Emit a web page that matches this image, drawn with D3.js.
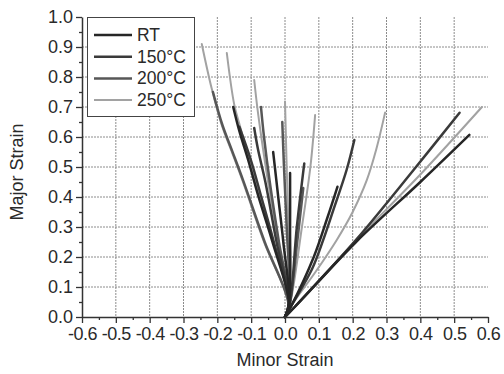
<!DOCTYPE html>
<html>
<head>
<meta charset="utf-8">
<script src="https://cdn.jsdelivr.net/npm/d3@7"></script>
<style>
  body { margin: 0; background: #fff; }
  svg { display: block; font-family: "Liberation Sans", Arial, sans-serif; }
</style>
</head>
<body>
<svg id="chart" width="504" height="374"></svg>
<script>
// strain paths, [minor, major] pairs
const seriesNames = ["RT", "150°C", "200°C", "250°C"];
const seriesColors = ["#262626", "#3a3a3a", "#575757", "#a2a2a2"];

const rtPaths = [
  [[0, 0], [0.012, 0.045], [-0.037, 0.25], [-0.078, 0.4], [-0.108, 0.52], [-0.135, 0.62], [-0.153, 0.7]],
  [[0, 0], [0.012, 0.045], [-0.005, 0.25], [-0.02, 0.4], [-0.035, 0.55]],
  [[0, 0], [0.012, 0.045], [0.015, 0.3], [0.015, 0.48]],
  [[0, 0], [0.02, 0.04], [0.085, 0.2], [0.125, 0.33], [0.155, 0.434]],
  [[0, 0], [0.03, 0.035], [0.21, 0.25], [0.4, 0.45], [0.545, 0.607]],
];
const c150Paths = [
  [[0, 0], [0.012, 0.045], [-0.033, 0.25], [-0.07, 0.4], [-0.1, 0.52], [-0.135, 0.634]],
  [[0, 0], [0.012, 0.045], [-0.025, 0.25], [-0.058, 0.45], [-0.08, 0.56], [-0.091, 0.63]],
  [[0, 0], [0.014, 0.045], [0.035, 0.3], [0.057, 0.512]],
  [[0, 0], [0.02, 0.04], [0.08, 0.16], [0.113, 0.257], [0.143, 0.357], [0.182, 0.49], [0.205, 0.59]],
  [[0, 0], [0.03, 0.035], [0.21, 0.257], [0.38, 0.49], [0.516, 0.681]],
];
const c200Paths = [
  [[0, 0], [0.01, 0.045], [-0.06, 0.25], [-0.123, 0.453], [-0.156, 0.553], [-0.185, 0.64], [-0.213, 0.75]],
  [[0, 0], [0.012, 0.045], [-0.018, 0.25], [-0.045, 0.45], [-0.062, 0.6], [-0.071, 0.7]],
  [[0, 0], [0.012, 0.045], [0.005, 0.3], [-0.003, 0.5], [-0.008, 0.65]],
  [[0, 0], [0.014, 0.045], [0.036, 0.25], [0.054, 0.43]],
];
const c250Paths = [
  [[0, 0], [0.01, 0.045], [-0.062, 0.25], [-0.125, 0.453], [-0.158, 0.553], [-0.187, 0.64], [-0.217, 0.763], [-0.246, 0.91]],
  [[0, 0], [0.012, 0.045], [-0.035, 0.25], [-0.075, 0.4], [-0.105, 0.52], [-0.133, 0.636], [-0.15, 0.708], [-0.172, 0.88]],
  [[0, 0], [0.012, 0.045], [-0.02, 0.25], [-0.05, 0.45], [-0.07, 0.6], [-0.082, 0.7], [-0.091, 0.79]],
  [[0, 0], [0.012, 0.045], [0.01, 0.3], [0.005, 0.5], [0, 0.718]],
  [[0, 0], [0.015, 0.045], [0.05, 0.3], [0.075, 0.5], [0.089, 0.673]],
  [[0, 0], [0.02, 0.04], [0.09, 0.15], [0.153, 0.257], [0.2, 0.35], [0.242, 0.457], [0.27, 0.56], [0.296, 0.682]],
  [[0, 0], [0.03, 0.035], [0.21, 0.255], [0.4, 0.475], [0.582, 0.7]],
];
const allPaths = [rtPaths, c150Paths, c200Paths, c250Paths];

const xTicks = [-0.6, -0.5, -0.4, -0.3, -0.2, -0.1, 0, 0.1, 0.2, 0.3, 0.4, 0.5, 0.6];
const yTicks = [0, 0.1, 0.2, 0.3, 0.4, 0.5, 0.6, 0.7, 0.8, 0.9, 1.0];

const svg = d3.select("#chart");
const plotLeft = 82, plotRight = 488, plotTop = 17, plotBottom = 317;

const x = d3.scaleLinear().domain([-0.6, 0.6]).range([plotLeft, plotRight]);
const y = d3.scaleLinear().domain([0, 1]).range([plotBottom, plotTop]);

const fmt = (d) => (Math.round(d * 10) / 10).toFixed(1);

// grid
const grid = svg.append("g").attr("class", "grid");
grid.selectAll("line.gx")
  .data(xTicks.slice(1, -1))
  .join("line")
  .attr("class", "gx")
  .attr("x1", (d) => x(d)).attr("x2", (d) => x(d))
  .attr("y1", plotTop).attr("y2", plotBottom)
  .attr("stroke", "#8c8c8c")
  .attr("stroke-width", 1)
  .attr("stroke-dasharray", "2,1");
grid.selectAll("line.gy")
  .data(yTicks.slice(1, -1))
  .join("line")
  .attr("class", "gy")
  .attr("x1", plotLeft).attr("x2", plotRight)
  .attr("y1", (d) => y(d)).attr("y2", (d) => y(d))
  .attr("stroke", "#8c8c8c")
  .attr("stroke-width", 1)
  .attr("stroke-dasharray", "2,1");

// strain paths
const line = d3.line()
  .x((d) => x(d[0]))
  .y((d) => y(d[1]))
  .curve(d3.curveCatmullRom.alpha(0.5));

const paths = svg.append("g").attr("class", "paths");
// light series drawn first so darker ones sit on top
[3, 2, 1, 0].forEach((si) => {
  paths.append("g")
    .selectAll("path")
    .data(allPaths[si])
    .join("path")
    .attr("d", line)
    .attr("fill", "none")
    .attr("stroke", seriesColors[si])
    .attr("stroke-width", si === 3 ? 2 : 2.5)
    .attr("stroke-linecap", "round");
});

// axes
const xAxis = svg.append("g")
  .attr("transform", `translate(0,${plotBottom})`)
  .call(d3.axisBottom(x).tickValues(xTicks).tickFormat(fmt).tickSize(6).tickSizeOuter(0));
svg.append("g")
  .attr("transform", `translate(0,${plotBottom})`)
  .call(d3.axisBottom(x).tickValues(d3.range(-0.55, 0.6, 0.1)).tickFormat("").tickSize(3).tickSizeOuter(0))
  .call((g) => g.select(".domain").remove());

const yAxis = svg.append("g")
  .attr("transform", `translate(${plotLeft},0)`)
  .call(d3.axisLeft(y).tickValues(yTicks).tickFormat(fmt).tickSize(6).tickSizeOuter(0));
svg.append("g")
  .attr("transform", `translate(${plotLeft},0)`)
  .call(d3.axisLeft(y).tickValues(d3.range(0.05, 1, 0.1)).tickFormat("").tickSize(3).tickSizeOuter(0))
  .call((g) => g.select(".domain").remove());

svg.selectAll(".domain").attr("stroke", "#333").attr("stroke-width", 1.5);
svg.selectAll(".tick line").attr("stroke", "#333").attr("stroke-width", 1.3);
xAxis.selectAll("text")
  .attr("font-size", "18px")
  .attr("fill", "#2a2a2a")
  .attr("letter-spacing", "-0.5px")
  .attr("dy", "0.8em");
yAxis.selectAll("text")
  .attr("font-size", "18px")
  .attr("fill", "#2a2a2a")
  .attr("x", -9);

// axis titles
svg.append("text")
  .attr("x", (plotLeft + plotRight) / 2)
  .attr("y", 366)
  .attr("text-anchor", "middle")
  .attr("font-size", "18px")
  .attr("fill", "#2a2a2a")
  .text("Minor Strain");
svg.append("text")
  .attr("transform", "translate(23,172) rotate(-90)")
  .attr("text-anchor", "middle")
  .attr("font-size", "18px")
  .attr("fill", "#2a2a2a")
  .text("Major Strain");

// legend
const legend = svg.append("g").attr("class", "legend");
legend.append("rect")
  .attr("x", 87.5).attr("y", 17.5)
  .attr("width", 107).attr("height", 99)
  .attr("fill", "#fff")
  .attr("stroke", "#444")
  .attr("stroke-width", 1);
const rows = legend.selectAll("g.row")
  .data(seriesNames)
  .join("g")
  .attr("class", "row")
  .attr("transform", (d, i) => `translate(0,${35 + i * 21.7})`);
rows.append("line")
  .attr("x1", 94).attr("x2", 132)
  .attr("stroke", (d, i) => seriesColors[i])
  .attr("stroke-width", (d, i) => (i === 3 ? 2 : 2.5));
rows.append("text")
  .attr("x", 137)
  .attr("y", 6)
  .attr("font-size", "17.5px")
  .attr("fill", "#2a2a2a")
  .text((d) => d);
</script>
</body>
</html>
